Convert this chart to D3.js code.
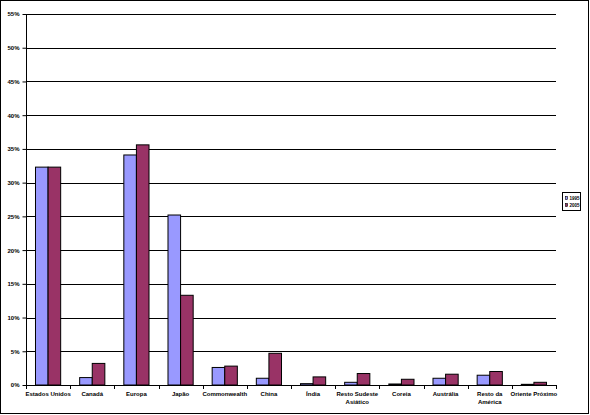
<!DOCTYPE html>
<html>
<head>
<meta charset="utf-8">
<script src="https://cdn.jsdelivr.net/npm/d3@7"></script>
<style>
  body { margin: 0; background: #fff; }
  svg text { font-family: "Liberation Sans", Arial, sans-serif; font-weight: bold; }
</style>
</head>
<body>
<svg id="chart" width="590" height="415"></svg>
<script>
"use strict"

// data
const categories = ["Estados Unidos", "Canadá", "Europa", "Japão", "Commonwealth", "China",
    "Índia", "Resto Sudeste Asiático", "Coreia", "Austrália", "Resto da América", "Oriente Próximo"]
const series = ["1995", "2005"]
const values1995 = [32.3, 1.1, 34.1, 25.2, 2.6, 1.0, 0.2, 0.4, 0.15, 1.0, 1.45, 0.1]
const values2005 = [32.3, 3.2, 35.6, 13.3, 2.8, 4.7, 1.2, 1.7, 0.85, 1.6, 2.0, 0.4]
const yTicks = [0, 5, 10, 15, 20, 25, 30, 35, 40, 45, 50, 55]
const colors = ["#9999FF", "#993366"]

const svg = d3.select("#chart")

// outer frame
svg.append("rect")
    .attr("x", 0.5).attr("y", 0.5)
    .attr("width", 588).attr("height", 413)
    .attr("fill", "#fff").attr("stroke", "#000")

const plotLeft = 26, plotRight = 556, plotTop = 14, plotBottom = 385

let x = d3.scaleBand().domain(categories).range([plotLeft, plotRight])
    .paddingInner(0.43).paddingOuter(0.215)
let x1 = d3.scaleBand().domain(series).range([0, x.bandwidth()])
let y = d3.scaleLinear().domain([0, 55]).range([plotBottom, plotTop])

// gridlines
svg.append("g")
    .selectAll("line")
    .data(yTicks.slice(1))
    .enter().append("line")
    .attr("x1", plotLeft).attr("x2", plotRight)
    .attr("y1", d => Math.round(y(d)) + 0.5)
    .attr("y2", d => Math.round(y(d)) + 0.5)
    .attr("stroke", "#000")

// bars
let rows = categories.map((c, i) => ({cat: c, vals: [values1995[i], values2005[i]]}))
svg.append("g")
    .selectAll("g")
    .data(rows)
    .enter().append("g")
    .attr("transform", d => "translate(" + x(d.cat) + ",0)")
    .selectAll("rect")
    .data(d => d.vals.map((v, j) => ({key: series[j], v: v, j: j})))
    .enter().append("rect")
    .attr("x", d => x1(d.key))
    .attr("y", d => y(d.v))
    .attr("width", x1.bandwidth())
    .attr("height", d => plotBottom - y(d.v))
    .attr("fill", d => colors[d.j])
    .attr("stroke", "#000")
    .attr("stroke-width", 1)

// y axis
let yAxis = d3.axisLeft(y).tickValues(yTicks).tickSize(4).tickPadding(3)
    .tickFormat(d => d + "%")
let gy = svg.append("g")
    .attr("transform", "translate(" + (plotLeft + 0.5) + ",0)")
    .call(yAxis)
gy.select(".domain").attr("d", "M0," + plotTop + "V" + plotBottom)
gy.selectAll("text").attr("font-size", 6).attr("font-family", null)

// x axis with ticks between categories
svg.append("line")
    .attr("x1", plotLeft).attr("x2", plotRight)
    .attr("y1", plotBottom + 0.5).attr("y2", plotBottom + 0.5)
    .attr("stroke", "#000")
svg.append("g")
    .selectAll("line")
    .data(d3.range(categories.length + 1))
    .enter().append("line")
    .attr("x1", i => Math.round(plotLeft + i * x.step()) + 0.5)
    .attr("x2", i => Math.round(plotLeft + i * x.step()) + 0.5)
    .attr("y1", plotBottom).attr("y2", plotBottom + 4)
    .attr("stroke", "#000")

// category labels, wrapped like the original
const wrapped = {
    "Resto Sudeste Asiático": ["Resto Sudeste", "Asiático"],
    "Resto da América": ["Resto da", "América"]
}
let labels = svg.append("g")
    .selectAll("text")
    .data(categories)
    .enter().append("text")
    .attr("x", d => x(d) + x.bandwidth() / 2)
    .attr("y", 396)
    .attr("text-anchor", "middle")
    .attr("font-size", 6)
labels.each(function(d) {
    let lines = wrapped[d] || [d]
    d3.select(this).selectAll("tspan")
        .data(lines)
        .enter().append("tspan")
        .attr("x", x(d) + x.bandwidth() / 2)
        .attr("dy", (l, i) => i === 0 ? 0 : 8)
        .text(l => l)
})

// legend
let lg = svg.append("g").attr("transform", "translate(562,192)")
lg.append("rect")
    .attr("x", 0.5).attr("y", 0.5)
    .attr("width", 18).attr("height", 18)
    .attr("fill", "#fff").attr("stroke", "#000")
series.forEach((s, i) => {
    lg.append("rect")
        .attr("x", 3.5).attr("y", 4.5 + i * 7)
        .attr("width", 2).attr("height", 3)
        .attr("fill", colors[i]).attr("stroke", "#000").attr("stroke-width", 0.6)
    lg.append("text")
        .attr("x", 7.5).attr("y", 8 + i * 7)
        .attr("font-size", 4.5)
        .text(s)
})
</script>
</body>
</html>
